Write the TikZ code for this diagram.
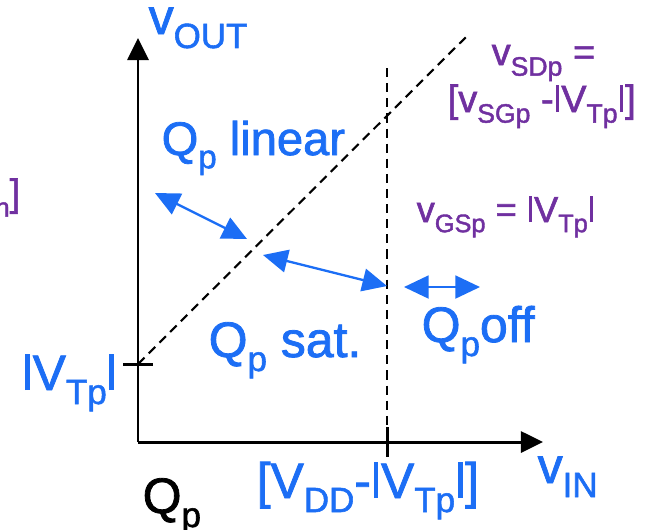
\documentclass[tikz,border=0pt]{standalone}
\usepackage{fontspec}
\setmainfont{Liberation Sans}[FakeBold=1.6]
\usetikzlibrary{arrows.meta}
\definecolor{regblue}{RGB}{28,110,245}
\definecolor{regpurple}{RGB}{112,48,160}
\newcommand{\lo}[1]{\raisebox{-0.28em}{\scalebox{0.7}{#1}}}
\newcommand{\vbar}{\hspace{0.05em}\rule{0.1em}{0.72em}\hspace{0.05em}}

\begin{document}
\begin{tikzpicture}[
  x=0.01cm, y=-0.01cm,
  axis/.style={line width=0.85pt, -{Triangle[length=6.3pt,width=6pt]}},
  guide/.style={line width=0.6pt, dash pattern=on 2.6pt off 1.7pt},
  region/.style={regblue, line width=0.65pt,
    {Triangle[length=7pt,width=6.5pt]}-{Triangle[length=7pt,width=6.5pt]}},
  blbl/.style={anchor=base west, inner sep=0pt, text=regblue, font=\fontsize{14.2}{16}\selectfont},
  plbl/.style={anchor=base west, inner sep=0pt, text=regpurple, font=\fontsize{10.8}{12}\selectfont}
]
  \useasboundingbox (0,0) rectangle (646,529);

  \coordinate (o) at (138,442);
  \coordinate (ytip) at (138,38);
  \coordinate (xtip) at (543,442);
  \coordinate (vt) at (138,364);
  \coordinate (vtl) at (123,364);
  \coordinate (vtr) at (153,364);
  \coordinate (dtop) at (466,37);
  \coordinate (sw) at (387,68);
  \coordinate (swax) at (387,442);
  \coordinate (swt) at (387,427);
  \coordinate (swb) at (387,457);

  \draw[axis] (o) -- (ytip);
  \draw[axis] (o) -- (xtip);
  \draw[line width=0.85pt] (vtl) -- (vtr);
  \draw[line width=0.85pt] (swt) -- (swb);
  \draw[guide] (vt) -- (dtop);
  \draw[guide] (sw) -- (swax);

  \coordinate (a1l) at (155,193);
  \coordinate (a1r) at (247,239);
  \coordinate (a2l) at (263,255);
  \coordinate (a2r) at (387,286);
  \coordinate (a3l) at (404,287);
  \coordinate (a3r) at (480,287);
  \draw[region] (a1l) -- (a1r);
  \draw[region] (a2l) -- (a2r);
  \draw[region] (a3l) -- (a3r);

  \node[blbl] (vout) at (148,34) {v\lo{OUT}};
  \node[blbl, font=\fontsize{13.4}{16}\selectfont] (qlin) at (161,155) {Q\lo{p} linear};
  \node[blbl] (vtp) at (22,390) {\vbar V\lo{Tp}\vbar};
  \node[blbl] (qsat) at (208,357) {Q\lo{p} sat.};
  \node[blbl] (qoff) at (421,342) {Q\lo{p}off};
  \node[blbl] (vddtp) at (256,498) {[V\lo{DD}-\vbar V\lo{Tp}\vbar]};
  \node[blbl] (vin) at (537,483) {v\lo{IN}};
  \node[blbl, text=black] (qp) at (142,513) {Q\lo{p}};

  \node[plbl] (vsdp) at (491,65) {v\lo{SDp} =};
  \node[plbl] (vsgp) at (447,112) {[v\lo{SGp} -\vbar V\lo{Tp}\vbar]};
  \node[plbl, font=\fontsize{10.3}{12}\selectfont] (vgsp) at (416,222) {v\lo{GSp} = \vbar V\lo{Tp}\vbar};
  \node[plbl, anchor=base east] (vtn) at (21,206) {V\lo{Tn}]};
\end{tikzpicture}
\end{document}
